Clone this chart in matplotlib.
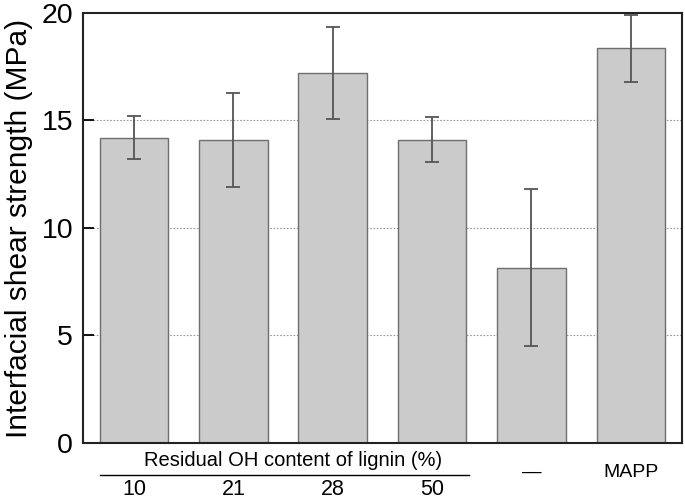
import matplotlib
matplotlib.use("Agg")
import matplotlib.pyplot as plt
from matplotlib.lines import Line2D

# values
group_labels = ["10", "21", "28", "50", "\u2014", "MAPP"]
strength = [14.2, 14.1, 17.2, 14.1, 8.15, 18.35]
strength_err = [1.0, 2.2, 2.15, 1.05, 3.65, 1.55]
y_ticks = [0, 5, 10, 15, 20]

plt.rcParams["font.family"] = ["Liberation Sans", "DejaVu Sans"]

fig = plt.figure(figsize=(6.85, 5.01), dpi=100)
ax = fig.add_axes([0.121, 0.116, 0.8746, 0.858])

x = list(range(len(strength)))
ax.bar(x, strength, width=0.69, color="#cbcbcb", edgecolor="#6e6e6e",
       linewidth=1.0, zorder=2)
ax.errorbar(x, strength, yerr=strength_err, fmt="none", ecolor="#555555",
            elinewidth=1.3, capsize=5, capthick=1.3, zorder=3)

ax.set_xlim(-0.515, 5.515)
ax.set_ylim(0, 20)
ax.set_yticks(y_ticks)
ax.set_yticklabels([str(t) for t in y_ticks], fontsize=20.5)
ax.set_xticks([])
ax.tick_params(axis="y", direction="in", length=8, width=1.3, pad=7)

for t in [5, 10, 15]:
    ax.axhline(t, color="#9a9a9a", linestyle=(0, (1.5, 1.5)),
               linewidth=0.8, zorder=1)

for s in ax.spines.values():
    s.set_linewidth(1.5)
    s.set_color("#222222")

ax.set_ylabel("Interfacial shear strength (MPa)", fontsize=21.5, labelpad=6)

# group annotation below the axis
trans = ax.get_xaxis_transform()
ax.text(1.6, -0.040, "Residual OH content of lignin (%)", transform=trans,
        ha="center", va="center", fontsize=14.5)
ax.add_line(Line2D([-0.34, 3.37], [-0.074, -0.074], transform=trans,
                   color="black", linewidth=1.0, clip_on=False))
for i in range(4):
    ax.text(x[i], -0.109, group_labels[i], transform=trans,
            ha="center", va="center", fontsize=15.5)
for i in range(4, 6):
    ax.text(x[i], -0.068, group_labels[i], transform=trans,
            ha="center", va="center", fontsize=14)

fig.savefig("out.png", dpi=100)
